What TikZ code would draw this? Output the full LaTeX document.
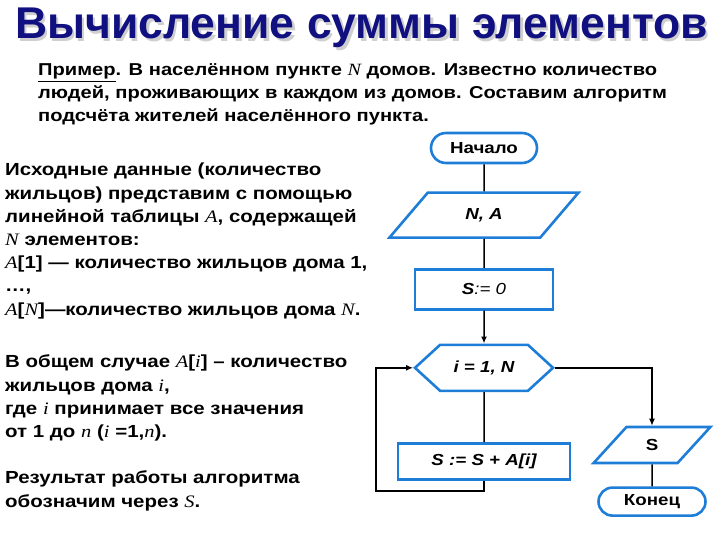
\documentclass[tikz,border=0pt]{standalone}
\usepackage{fontspec}
\setmainfont{Liberation Sans}[FakeStretch=1.17]
\newfontfamily\titlefont{Liberation Sans}
\newfontfamily\timesf{Liberation Serif}[FakeStretch=1.17]
\usetikzlibrary{shapes.geometric, shapes.misc, shapes.symbols, arrows.meta, positioning}
\definecolor{titleblue}{RGB}{16,16,128}
\definecolor{boxblue}{RGB}{30,125,215}
\newcommand{\tv}[1]{{\timesf\mdseries\itshape #1}}
\tikzset{
    txt/.style={anchor=base west, align=left, inner sep=0pt, font=\fontsize{17.5}{23.2}\selectfont\bfseries},
    heading/.style={anchor=base west, inner sep=0pt, font=\titlefont\fontsize{44.5}{48}\selectfont\bfseries},
    terminal/.style={rounded rectangle, draw=boxblue, line width=2.6pt, minimum width=108pt, minimum height=30pt, inner sep=1pt, font=\fontsize{16}{18}\selectfont\bfseries},
    io/.style={trapezium, trapezium stretches=true, draw=boxblue, line width=2.6pt, inner sep=1pt, font=\fontsize{16}{18}\selectfont\bfseries\itshape},
    process/.style={rectangle, draw=boxblue, line width=2.6pt, minimum height=38pt, inner sep=1pt, font=\fontsize{16}{18}\selectfont\bfseries\itshape},
    loophead/.style={signal, signal to=east and west, signal pointer angle=85, draw=boxblue, line width=2.6pt, minimum width=138pt, minimum height=46pt, inner sep=1pt, font=\fontsize{16}{18}\selectfont\bfseries\itshape},
    line/.style={line width=1.5pt},
    arrow/.style={-{Latex[length=7pt,width=6pt]}, line width=1.5pt},
}
\begin{document}
\begin{tikzpicture}[x=1pt, y=-1pt]
    \useasboundingbox (0,0) rectangle (720,540);
    % Title
    \node[heading, text=gray!38] (titleshadow) at (17.5,41.5) {Вычисление суммы элементов};
    \node[heading, text=titleblue] (title) at (15,39) {Вычисление суммы элементов};

    % Texts (anchored at the baseline of the last line)
    \node[txt, font=\fontsize{17.2}{23}\selectfont\bfseries] (intro) at (38,122) {\underline{Пример}. В населённом пункте \tv{N} домов. Известно количество\\
        людей, проживающих в каждом из домов. Составим алгоритм\\
        подсчёта жителей населённого пункта.};
    \node[txt] (given) at (5,315) {Исходные данные (количество\\
        жильцов) представим с помощью\\
        линейной таблицы \tv{A}, содержащей\\
        \tv{N} элементов:\\
        \tv{A}[1] — количество жильцов дома 1,\\
        …,\\
        \tv{A}[\tv{N}]—количество жильцов дома \tv{N}.};
    \node[txt] (general) at (5,507) {В общем случае \tv{A}[\tv{i}] – количество\\
        жильцов дома \tv{i},\\
        где \tv{i} принимает все значения\\
        от 1 до \tv{n} (\tv{i} =1,\tv{n}).\\[23.2pt]
        Результат работы алгоритма\\
        обозначим через \tv{S}.};

    % Flowchart
    \node[terminal] (start) at (484,148) {Начало};
    \node[io, below=27pt of start, trapezium left angle=49, trapezium right angle=131, minimum width=190pt, minimum height=45pt] (input) {N, A};
    \node[process, below=29pt of input, minimum width=138pt, minimum height=40pt] (init) {S\mdseries:= 0};
    \node[loophead, below=33pt of init] (loop) {i = 1, N};
    \node[process, below=50pt of loop, minimum width=172pt, minimum height=36pt] (body) {S := S + A[i]};
    \node[io, trapezium left angle=55, trapezium right angle=125, minimum width=117pt, minimum height=36pt, font=\fontsize{16}{18}\selectfont\bfseries] (output) at (652,445) {S};
    \node[terminal, below=22pt of output, minimum width=109pt, minimum height=28pt] (stop) {Конец};
    \coordinate (back) at (376,491);

    \draw[line] (start) -- (input);
    \draw[line] (input) -- (init);
    \draw[arrow] (init) -- (loop);
    \draw[line] (loop) -- (body);
    \draw[arrow] (body.south) |- (back) |- (loop.west);
    \draw[arrow] (loop.east) -| (output.north);
    \draw[line] (output) -- (stop);
\end{tikzpicture}
\end{document}
